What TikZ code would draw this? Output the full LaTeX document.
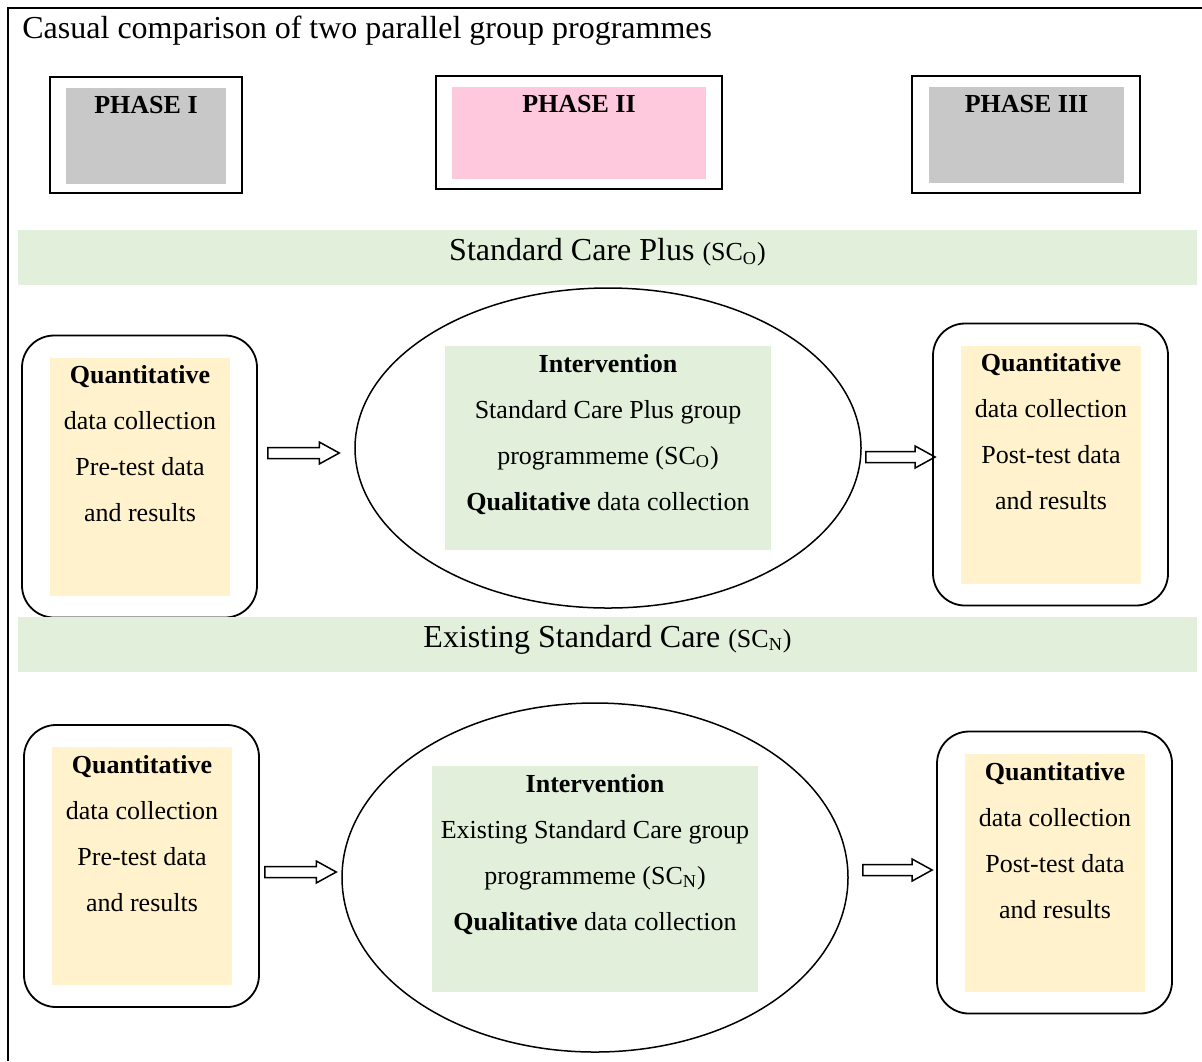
\documentclass[tikz,border=0pt]{standalone}
\usepackage{fontspec}
\setmainfont{Liberation Serif}
\usetikzlibrary{shapes.geometric,positioning,calc}
\definecolor{phasegray}{RGB}{200,200,200}
\definecolor{phasepink}{RGB}{255,201,221}
\definecolor{bandgreen}{RGB}{226,239,218}
\definecolor{databeige}{RGB}{255,242,204}
\newcommand{\scsub}[1]{{\fontsize{13}{15}\selectfont (SC\textsubscript{#1})}}
\tikzset{
        phase/.style={draw=black, line width=1pt, inner sep=0pt},
        phasefill/.style={inner sep=0pt, label={[font=\fontsize{13}{15}\selectfont\bfseries, anchor=north, inner sep=0pt, yshift=-4pt]north:#1}},
        band/.style={fill=bandgreen, inner sep=0pt, minimum width=589.5pt, minimum height=27.5pt},
        bandtext/.style={font=\fontsize{16}{19}\selectfont, inner sep=0pt},
        roundbox/.style={draw=black, line width=0.9pt, rounded corners=16pt, inner sep=0pt, minimum width=117.5pt, minimum height=141pt},
        datafill/.style={fill=databeige, inner sep=0pt, minimum width=90pt, minimum height=119pt},
        oval/.style={ellipse, draw=black, line width=0.75pt, inner sep=0pt, minimum width=253pt},
        intfill/.style={fill=bandgreen, inner sep=0pt, minimum width=163pt},
        body/.style={font=\fontsize{13}{23}\selectfont, align=center, inner sep=0pt},
        blockarr/.style={draw=black, line width=0.75pt, to path={let \p1=(\tikztostart), \p2=(\tikztotarget) in
          (\x1,\y1+2.75pt) -- (\x2-10pt,\y1+2.75pt) -- (\x2-10pt,\y1+5.5pt) -- (\x2,\y1)
          -- (\x2-10pt,\y1-5.5pt) -- (\x2-10pt,\y1-2.75pt) -- (\x1,\y1-2.75pt) -- cycle}}
}
\begin{document}
\begin{tikzpicture}[x=0.5pt, y=-0.5pt]
        \useasboundingbox (0,0) rectangle (1202,1061);
        \draw[line width=1pt] (8,1061) -- (8,8) -- (1202,8);
        \node[anchor=west, inner sep=0pt, font=\fontsize{16}{19}\selectfont] (title) at (22,31) {Casual comparison of two parallel group programmes};

        \node[phase, minimum width=96pt, minimum height=58pt] (ph1) at (146,135) {};
        \node[phasefill=PHASE I, fill=phasegray, minimum width=80pt, minimum height=48pt] (ph1in) at (146,136) {};
        \node[phase, minimum width=143pt, minimum height=56.5pt] (ph2) at (579,132.5) {};
        \node[phasefill=PHASE II, fill=phasepink, minimum width=127pt, minimum height=46pt] (ph2in) at (579,133) {};
        \node[phase, minimum width=114pt, minimum height=58.5pt] (ph3) at (1026,134.5) {};
        \node[phasefill=PHASE III, fill=phasegray, minimum width=97.5pt, minimum height=48pt] (ph3in) at (1026.5,135) {};

        \node[band] (band1) at (607.5,257.5) {};
        \node[bandtext] (band1txt) at ([yshift=2.5pt]band1.center) {Standard Care Plus \scsub{O}};

        \node[roundbox] (pre1) at (139.5,476.5) {};
        \node[datafill] (pre1in) at (140,476.5) {};
        \node[body, below=4pt of pre1in.north] (pre1txt) {\textbf{Quantitative}\\data collection\\Pre-test data\\and results};
        \node[oval, minimum height=160pt] (int1) at (608,448) {};
        \node[intfill, minimum height=102pt] (int1in) at (608,448) {};
        \node[body, below=4pt of int1in.north] (int1txt) {\textbf{Intervention}\\Standard Care Plus group\\programmeme (SC\textsubscript{O})\\\textbf{Qualitative} data collection};
        \node[roundbox] (post1) at (1050.5,464.5) {};
        \node[datafill] (post1in) at (1051,464.5) {};
        \node[body, below=4pt of post1in.north] (post1txt) {\textbf{Quantitative}\\data collection\\Post-test data\\and results};
        \coordinate (row1a) at (0,453);
        \coordinate (row1b) at (0,457);
        \draw[blockarr] ($(pre1.east |- row1a)+(10,0)$) to ($(int1.west |- row1a)+(-15,0)$);
        \draw[blockarr] ($(int1.east |- row1b)+(4,0)$) to ($(post1.west |- row1b)+(3,0)$);

        \node[band] (band2) at (607.5,644.5) {};
        \node[bandtext] (band2txt) at ([yshift=2.5pt]band2.center) {Existing Standard Care \scsub{N}};

        \node[roundbox] (pre2) at (141.5,866) {};
        \node[datafill] (pre2in) at (142,866) {};
        \node[body, below=4pt of pre2in.north] (pre2txt) {\textbf{Quantitative}\\data collection\\Pre-test data\\and results};
        \node[oval, minimum height=174.5pt] (int2) at (595,877.5) {};
        \node[intfill, minimum height=113pt] (int2in) at (595,879) {};
        \node[body, below=4pt of int2in.north] (int2txt) {\textbf{Intervention}\\Existing Standard Care group\\programmeme (SC\textsubscript{N})\\\textbf{Qualitative} data collection};
        \node[roundbox] (post2) at (1054.5,872.5) {};
        \node[datafill] (post2in) at (1055,873) {};
        \node[body, below=4pt of post2in.north] (post2txt) {\textbf{Quantitative}\\data collection\\Post-test data\\and results};
        \coordinate (row2a) at (0,872);
        \coordinate (row2b) at (0,870);
        \draw[blockarr] ($(pre2.east |- row2a)+(5,0)$) to ($(int2.west |- row2a)+(-5,0)$);
        \draw[blockarr] ($(int2.east |- row2b)+(14,0)$) to ($(post2.west |- row2b)+(-4,0)$);
\end{tikzpicture}
\end{document}
